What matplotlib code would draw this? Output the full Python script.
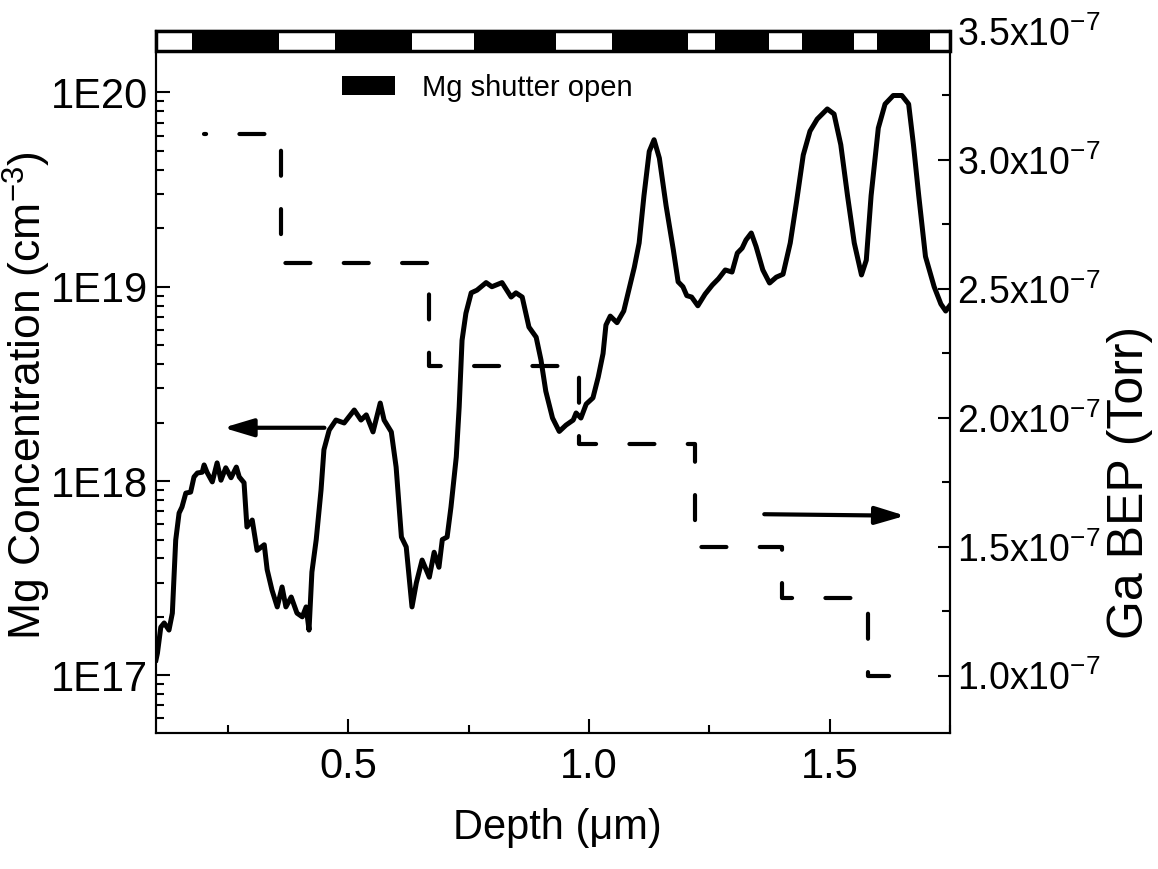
import matplotlib.pyplot as plt
from matplotlib.patches import Rectangle
from matplotlib.ticker import MultipleLocator, NullFormatter, LogLocator

plt.rcParams['font.family'] = ['Liberation Sans', 'DejaVu Sans']
plt.rcParams['mathtext.fontset'] = 'custom'
plt.rcParams['mathtext.rm'] = 'Liberation Sans'
plt.rcParams['mathtext.it'] = 'Liberation Sans:italic'

# SIMS Mg profile
depth = [0.100, 0.103, 0.110, 0.117, 0.127, 0.134, 0.141, 0.148, 0.154, 0.162,
         0.172, 0.179, 0.186, 0.196, 0.200, 0.206, 0.217, 0.227, 0.235, 0.245,
         0.256, 0.267, 0.273, 0.283, 0.289, 0.300, 0.310, 0.325, 0.331, 0.341,
         0.352, 0.362, 0.370, 0.381, 0.393, 0.404, 0.412, 0.418, 0.424, 0.433,
         0.443, 0.449, 0.460, 0.474, 0.491, 0.512, 0.526, 0.537, 0.551, 0.566,
         0.574, 0.589, 0.599, 0.610, 0.620, 0.632, 0.641, 0.653, 0.668, 0.678,
         0.688, 0.695, 0.705, 0.713, 0.724, 0.730, 0.736, 0.744, 0.755, 0.767,
         0.786, 0.798, 0.819, 0.838, 0.848, 0.861, 0.875, 0.890, 0.900, 0.910,
         0.924, 0.938, 0.952, 0.967, 0.973, 0.983, 0.994, 1.008, 1.019, 1.029,
         1.035, 1.044, 1.058, 1.072, 1.079, 1.094, 1.104, 1.114, 1.125, 1.135,
         1.146, 1.160, 1.175, 1.185, 1.195, 1.203, 1.213, 1.226, 1.241, 1.256,
         1.269, 1.283, 1.297, 1.308, 1.318, 1.326, 1.337, 1.347, 1.361, 1.375,
         1.389, 1.403, 1.418, 1.431, 1.445, 1.459, 1.474, 1.495, 1.509, 1.523,
         1.537, 1.551, 1.566, 1.576, 1.586, 1.601, 1.615, 1.632, 1.650, 1.664,
         1.674, 1.685, 1.699, 1.717, 1.731, 1.741, 1.752]
mg_conc = [1.2e17, 1.3e17, 1.77e17, 1.86e17, 1.71e17, 2.09e17, 4.97e17, 6.84e17, 7.35e17, 8.67e17,
           8.77e17, 1.05e18, 1.10e18, 1.11e18, 1.21e18, 1.11e18, 9.9e17, 1.24e18, 1.01e18, 1.17e18,
           1.04e18, 1.18e18, 1.05e18, 9.8e17, 5.8e17, 6.3e17, 4.4e17, 4.7e17, 3.5e17, 2.75e17,
           2.25e17, 2.85e17, 2.25e17, 2.53e17, 2.09e17, 2.0e17, 2.25e17, 1.71e17, 3.4e17, 5.0e17,
           9.0e17, 1.45e18, 1.83e18, 2.06e18, 1.99e18, 2.32e18, 2.06e18, 2.19e18, 1.79e18, 2.52e18,
           2.06e18, 1.79e18, 1.18e18, 5.15e17, 4.58e17, 2.25e17, 2.99e17, 3.92e17, 3.2e17, 4.3e17,
           3.6e17, 5.0e17, 5.15e17, 7.35e17, 1.33e18, 2.40e18, 5.3e18, 7.3e18, 9.3e18, 9.6e18,
           1.05e19, 1.0e19, 1.05e19, 8.85e18, 9.3e18, 8.85e18, 6.2e18, 5.5e18, 4.2e18, 2.9e18,
           2.11e18, 1.80e18, 1.94e18, 2.06e18, 2.24e18, 2.11e18, 2.49e18, 2.68e18, 3.43e18, 4.53e18,
           6.35e18, 7.06e18, 6.53e18, 7.5e18, 8.85e18, 1.26e19, 1.68e19, 2.94e19, 4.97e19, 5.71e19,
           4.59e19, 2.61e19, 1.55e19, 1.06e19, 1.0e19, 9.0e18, 8.85e18, 7.98e18, 9.16e18, 1.02e19,
           1.10e19, 1.22e19, 1.19e19, 1.49e19, 1.58e19, 1.74e19, 1.89e19, 1.61e19, 1.22e19, 1.045e19,
           1.12e19, 1.16e19, 1.68e19, 2.73e19, 4.76e19, 6.32e19, 7.29e19, 8.22e19, 7.74e19, 5.38e19,
           2.94e19, 1.68e19, 1.15e19, 1.37e19, 2.94e19, 6.56e19, 8.71e19, 9.64e19, 9.64e19, 8.71e19,
           5.38e19, 2.94e19, 1.43e19, 1.0e19, 8.15e18, 7.5e18, 8.15e18]

# Ga beam equivalent pressure steps
bep_edges = [0.20, 0.36, 0.668, 0.98, 1.22, 1.40, 1.58, 1.665]
bep_levels = [3.1e-7, 2.6e-7, 2.2e-7, 1.9e-7, 1.5e-7, 1.3e-7, 1.0e-7]

# Mg shutter open intervals (depth, um)
shutter_open = [(0.174, 0.356), (0.472, 0.632), (0.761, 0.931), (1.047, 1.205),
                (1.262, 1.373), (1.442, 1.551), (1.598, 1.708)]

left_ticks = [1e17, 1e18, 1e19, 1e20]
left_labels = ['1E17', '1E18', '1E19', '1E20']
right_ticks = [1.0e-7, 1.5e-7, 2.0e-7, 2.5e-7, 3.0e-7, 3.5e-7]
right_labels = ['1.0x10$^{-7}$', '1.5x10$^{-7}$', '2.0x10$^{-7}$',
                '2.5x10$^{-7}$', '3.0x10$^{-7}$', '3.5x10$^{-7}$']

fig = plt.figure(figsize=(11.58, 8.69), dpi=100)
ax = fig.add_axes([0.1347, 0.1565, 0.6857, 0.8078])
ax2 = ax.twinx()

ax.plot(depth, mg_conc, color='black', lw=3.6, solid_joinstyle='round')
ax.set_yscale('log')

ax2.plot(bep_edges, bep_levels + bep_levels[-1:], drawstyle='steps-post', color='black',
         lw=3, linestyle=(5.5, (6, 8)), dash_capstyle='round')
ax2.set_ylim(0.7775e-7, 3.5e-7)

# shutter bar along the top
bar_y, bar_h = 0.972, 0.028
ax.add_patch(Rectangle((0, bar_y), 1, bar_h, transform=ax.transAxes, facecolor='white',
                       edgecolor='black', lw=2.5, zorder=3, clip_on=False))
bars = ax.broken_barh([(a, b - a) for a, b in shutter_open], (bar_y, bar_h),
                      transform=ax.get_xaxis_transform(), facecolor='black', zorder=4,
                      label='Mg shutter open')
ax.set_xlim(0.1, 1.75)
ax.set_ylim(5.05e16, 2.07e20)

ax.legend(handles=[bars], loc='center left', bbox_to_anchor=(0.2343, 0.9188), frameon=False,
          fontsize=21, handlelength=1.8, handleheight=0.62, handletextpad=0.95,
          borderpad=0, borderaxespad=0)

# arrows pointing to the axes
arrow = dict(arrowstyle='-|>,head_length=0.6,head_width=0.18', lw=3, color='black',
             mutation_scale=30, shrinkA=0, shrinkB=0)
ax.annotate('', xy=(0.240, 1.88e18), xytext=(0.450, 1.88e18), arrowprops=arrow)
ax2.annotate('', xy=(1.657, 1.62e-7), xytext=(1.364, 1.626e-7), arrowprops=arrow)

ax.set_yticks(left_ticks, left_labels)
ax.yaxis.set_minor_locator(LogLocator(base=10, subs=range(2, 10)))
ax.yaxis.set_minor_formatter(NullFormatter())
ax.xaxis.set_major_locator(MultipleLocator(0.5))
ax.xaxis.set_minor_locator(MultipleLocator(0.25))
ax2.set_yticks(right_ticks, right_labels)
ax2.yaxis.set_minor_locator(MultipleLocator(0.25e-7))

ax.tick_params(which='both', direction='in', width=1.5, labelsize=30,
               top=False, right=False)
ax.tick_params(which='major', length=10)
ax.tick_params(which='minor', length=5.5)
ax.tick_params(axis='y', pad=6)
ax.tick_params(axis='x', pad=10)
ax2.tick_params(which='both', direction='in', width=1.5, labelsize=27, pad=5)
ax2.tick_params(which='major', length=9)
ax2.tick_params(which='minor', length=5.5)

for a in (ax, ax2):
    for s in a.spines.values():
        s.set_linewidth(1.5)

ax.set_xlabel('Depth (μm)', fontsize=30)
ax.xaxis.set_label_coords(0.505, -0.107)
ax.set_ylabel('Mg Concentration (cm$^{-3}$)', fontsize=32, ha='center', va='center',
              rotation_mode='anchor')
ax.yaxis.set_label_coords(-0.163, 0.48)
ax2.set_ylabel('Ga BEP (Torr)', fontsize=36, rotation=90, ha='center', va='center',
               rotation_mode='anchor')
ax2.yaxis.set_label_coords(1.2267, 0.3575)

fig.savefig('out.png', dpi=100)
